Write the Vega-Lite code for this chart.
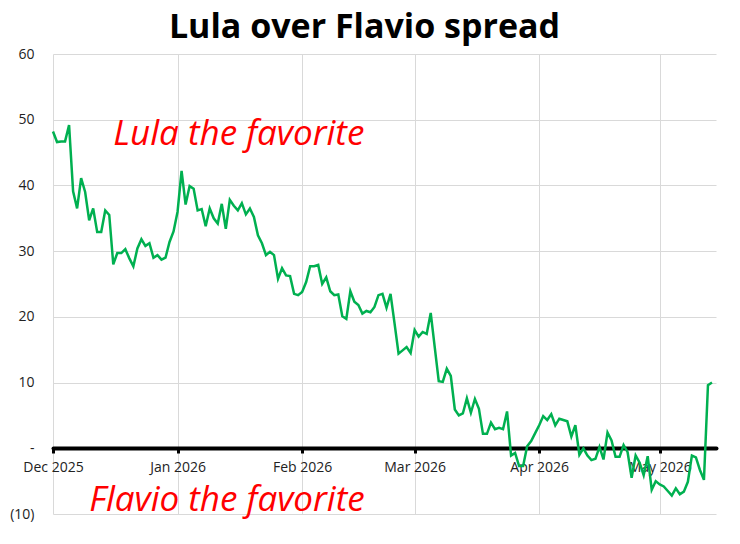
{
  "$schema": "https://vega.github.io/schema/vega-lite/v6.json",
  "width": 663,
  "height": 460,
  "autosize": {"type": "none"},
  "padding": {"left": 53, "top": 54, "right": 24, "bottom": 30},
  "background": "white",
  "title": {
    "text": "Lula over Flavio spread",
    "font": "Open Sans",
    "fontSize": 34,
    "fontWeight": "bold",
    "color": "black",
    "anchor": "middle",
    "dx": -20,
    "offset": 2
  },
  "config": {
    "font": "Open Sans",
    "view": {"stroke": null}
  },
  "datasets": {
    "spread": [
      {"date": "2025-12-01", "spread": 48.2},
      {"date": "2025-12-02", "spread": 46.6},
      {"date": "2025-12-03", "spread": 46.7},
      {"date": "2025-12-04", "spread": 46.7},
      {"date": "2025-12-05", "spread": 49.2},
      {"date": "2025-12-06", "spread": 39.1},
      {"date": "2025-12-07", "spread": 36.5},
      {"date": "2025-12-08", "spread": 41.1},
      {"date": "2025-12-09", "spread": 39.0},
      {"date": "2025-12-10", "spread": 34.7},
      {"date": "2025-12-11", "spread": 36.5},
      {"date": "2025-12-12", "spread": 32.9},
      {"date": "2025-12-13", "spread": 32.9},
      {"date": "2025-12-14", "spread": 36.2},
      {"date": "2025-12-15", "spread": 35.5},
      {"date": "2025-12-16", "spread": 28.0},
      {"date": "2025-12-17", "spread": 29.7},
      {"date": "2025-12-18", "spread": 29.7},
      {"date": "2025-12-19", "spread": 30.3},
      {"date": "2025-12-20", "spread": 28.9},
      {"date": "2025-12-21", "spread": 27.7},
      {"date": "2025-12-22", "spread": 30.4},
      {"date": "2025-12-23", "spread": 31.8},
      {"date": "2025-12-24", "spread": 30.8},
      {"date": "2025-12-25", "spread": 31.2},
      {"date": "2025-12-26", "spread": 29.0},
      {"date": "2025-12-27", "spread": 29.4},
      {"date": "2025-12-28", "spread": 28.7},
      {"date": "2025-12-29", "spread": 29.0},
      {"date": "2025-12-30", "spread": 31.4},
      {"date": "2025-12-31", "spread": 33.0},
      {"date": "2026-01-01", "spread": 36.0},
      {"date": "2026-01-02", "spread": 42.2},
      {"date": "2026-01-03", "spread": 37.1},
      {"date": "2026-01-04", "spread": 39.9},
      {"date": "2026-01-05", "spread": 39.5},
      {"date": "2026-01-06", "spread": 36.2},
      {"date": "2026-01-07", "spread": 36.4},
      {"date": "2026-01-08", "spread": 33.8},
      {"date": "2026-01-09", "spread": 36.5},
      {"date": "2026-01-10", "spread": 35.0},
      {"date": "2026-01-11", "spread": 34.2},
      {"date": "2026-01-12", "spread": 37.2},
      {"date": "2026-01-13", "spread": 33.4},
      {"date": "2026-01-14", "spread": 37.8},
      {"date": "2026-01-15", "spread": 36.9},
      {"date": "2026-01-16", "spread": 36.2},
      {"date": "2026-01-17", "spread": 37.3},
      {"date": "2026-01-18", "spread": 35.6},
      {"date": "2026-01-19", "spread": 36.5},
      {"date": "2026-01-20", "spread": 35.2},
      {"date": "2026-01-21", "spread": 32.4},
      {"date": "2026-01-22", "spread": 31.2},
      {"date": "2026-01-23", "spread": 29.4},
      {"date": "2026-01-24", "spread": 29.9},
      {"date": "2026-01-25", "spread": 29.4},
      {"date": "2026-01-26", "spread": 25.8},
      {"date": "2026-01-27", "spread": 27.4},
      {"date": "2026-01-28", "spread": 26.3},
      {"date": "2026-01-29", "spread": 26.2},
      {"date": "2026-01-30", "spread": 23.5},
      {"date": "2026-01-31", "spread": 23.3},
      {"date": "2026-02-01", "spread": 23.8},
      {"date": "2026-02-02", "spread": 25.3},
      {"date": "2026-02-03", "spread": 27.7},
      {"date": "2026-02-04", "spread": 27.7},
      {"date": "2026-02-05", "spread": 27.9},
      {"date": "2026-02-06", "spread": 25.0},
      {"date": "2026-02-07", "spread": 26.0},
      {"date": "2026-02-08", "spread": 23.9},
      {"date": "2026-02-09", "spread": 23.3},
      {"date": "2026-02-10", "spread": 23.4},
      {"date": "2026-02-11", "spread": 20.1},
      {"date": "2026-02-12", "spread": 19.7},
      {"date": "2026-02-13", "spread": 23.9},
      {"date": "2026-02-14", "spread": 22.3},
      {"date": "2026-02-15", "spread": 21.8},
      {"date": "2026-02-16", "spread": 20.5},
      {"date": "2026-02-17", "spread": 20.9},
      {"date": "2026-02-18", "spread": 20.7},
      {"date": "2026-02-19", "spread": 21.5},
      {"date": "2026-02-20", "spread": 23.3},
      {"date": "2026-02-21", "spread": 23.5},
      {"date": "2026-02-22", "spread": 21.4},
      {"date": "2026-02-23", "spread": 23.5},
      {"date": "2026-02-24", "spread": 19.0},
      {"date": "2026-02-25", "spread": 14.4},
      {"date": "2026-02-26", "spread": 14.9},
      {"date": "2026-02-27", "spread": 15.4},
      {"date": "2026-02-28", "spread": 14.5},
      {"date": "2026-03-01", "spread": 18.0},
      {"date": "2026-03-02", "spread": 17.0},
      {"date": "2026-03-03", "spread": 17.7},
      {"date": "2026-03-04", "spread": 17.4},
      {"date": "2026-03-05", "spread": 20.6},
      {"date": "2026-03-06", "spread": 15.4},
      {"date": "2026-03-07", "spread": 10.2},
      {"date": "2026-03-08", "spread": 10.1},
      {"date": "2026-03-09", "spread": 12.1},
      {"date": "2026-03-10", "spread": 11.0},
      {"date": "2026-03-11", "spread": 5.9},
      {"date": "2026-03-12", "spread": 5.0},
      {"date": "2026-03-13", "spread": 5.3},
      {"date": "2026-03-14", "spread": 7.6},
      {"date": "2026-03-15", "spread": 5.4},
      {"date": "2026-03-16", "spread": 7.5},
      {"date": "2026-03-17", "spread": 6.0},
      {"date": "2026-03-18", "spread": 2.2},
      {"date": "2026-03-19", "spread": 2.2},
      {"date": "2026-03-20", "spread": 3.9},
      {"date": "2026-03-21", "spread": 2.9},
      {"date": "2026-03-22", "spread": 3.1},
      {"date": "2026-03-23", "spread": 2.9},
      {"date": "2026-03-24", "spread": 5.6},
      {"date": "2026-03-25", "spread": -1.1},
      {"date": "2026-03-26", "spread": -0.7},
      {"date": "2026-03-27", "spread": -2.7},
      {"date": "2026-03-28", "spread": -2.7},
      {"date": "2026-03-29", "spread": 0.3},
      {"date": "2026-03-30", "spread": 1.1},
      {"date": "2026-03-31", "spread": 2.3},
      {"date": "2026-04-01", "spread": 3.5},
      {"date": "2026-04-02", "spread": 4.9},
      {"date": "2026-04-03", "spread": 4.3},
      {"date": "2026-04-04", "spread": 5.2},
      {"date": "2026-04-05", "spread": 3.5},
      {"date": "2026-04-06", "spread": 4.5},
      {"date": "2026-04-07", "spread": 4.3},
      {"date": "2026-04-08", "spread": 4.1},
      {"date": "2026-04-09", "spread": 1.8},
      {"date": "2026-04-10", "spread": 3.5},
      {"date": "2026-04-11", "spread": -1.0},
      {"date": "2026-04-12", "spread": 0.0},
      {"date": "2026-04-13", "spread": -1.1},
      {"date": "2026-04-14", "spread": -1.8},
      {"date": "2026-04-15", "spread": -1.6},
      {"date": "2026-04-16", "spread": 0.2},
      {"date": "2026-04-17", "spread": -1.7},
      {"date": "2026-04-18", "spread": 2.4},
      {"date": "2026-04-19", "spread": 1.2},
      {"date": "2026-04-20", "spread": -1.3},
      {"date": "2026-04-21", "spread": -1.3},
      {"date": "2026-04-22", "spread": 0.5},
      {"date": "2026-04-23", "spread": -0.6},
      {"date": "2026-04-24", "spread": -4.5},
      {"date": "2026-04-25", "spread": -1.1},
      {"date": "2026-04-26", "spread": -2.2},
      {"date": "2026-04-27", "spread": -4.1},
      {"date": "2026-04-28", "spread": -1.2},
      {"date": "2026-04-29", "spread": -6.3},
      {"date": "2026-04-30", "spread": -5.0},
      {"date": "2026-05-01", "spread": -5.5},
      {"date": "2026-05-02", "spread": -5.8},
      {"date": "2026-05-03", "spread": -6.5},
      {"date": "2026-05-04", "spread": -7.2},
      {"date": "2026-05-05", "spread": -6.1},
      {"date": "2026-05-06", "spread": -7.0},
      {"date": "2026-05-07", "spread": -6.6},
      {"date": "2026-05-08", "spread": -5.1},
      {"date": "2026-05-09", "spread": -1.1},
      {"date": "2026-05-10", "spread": -1.4},
      {"date": "2026-05-11", "spread": -3.3},
      {"date": "2026-05-12", "spread": -4.8},
      {"date": "2026-05-13", "spread": 9.6},
      {"date": "2026-05-14", "spread": 10.0}
    ],
    "notes": [
      {"date": "2025-12-16", "spread": 46.2, "label": "Lula the favorite"},
      {"date": "2025-12-10", "spread": -9.6, "label": "Flavio the favorite"}
    ]
  },
  "encoding": {
    "x": {
      "field": "date",
      "type": "temporal",
      "title": null,
      "scale": {
        "type": "utc",
        "domain": [
          {"year": 2025, "month": 12, "date": 1, "utc": true},
          {"year": 2026, "month": 5, "date": 15, "utc": true}
        ]
      },
      "axis": {
        "values": [
          {"year": 2025, "month": 12, "date": 1, "utc": true},
          {"year": 2026, "month": 1, "date": 1, "utc": true},
          {"year": 2026, "month": 2, "date": 1, "utc": true},
          {"year": 2026, "month": 3, "date": 1, "utc": true},
          {"year": 2026, "month": 4, "date": 1, "utc": true},
          {"year": 2026, "month": 5, "date": 1, "utc": true}
        ],
        "format": "%b %Y",
        "offset": -66,
        "domainColor": "black",
        "domainWidth": 4,
        "domainCap": "round",
        "tickColor": "black",
        "tickWidth": 3,
        "tickSize": 5,
        "labelPadding": 7,
        "labelFontSize": 14,
        "labelColor": "#222222",
        "labelFlush": false,
        "labelOverlap": false,
        "gridColor": "#d9d9d9",
        "gridWidth": 1
      }
    },
    "y": {
      "field": "spread",
      "type": "quantitative",
      "title": null,
      "scale": {"domain": [-10, 60], "nice": false, "zero": false},
      "axis": {
        "values": [-10, 0, 10, 20, 30, 40, 50, 60],
        "labelExpr": "datum.value == 0 ? '-' : (datum.value < 0 ? '(' + format(-datum.value, 'd') + ')' : datum.label)",
        "domain": false,
        "ticks": false,
        "labelPadding": 19,
        "labelFontSize": 14,
        "labelColor": "#222222",
        "gridColor": "#d9d9d9",
        "gridWidth": 1
      }
    }
  },
  "layer": [
    {
      "data": {"name": "spread"},
      "mark": {"type": "line", "color": "#00b050", "strokeWidth": 2.5}
    },
    {
      "data": {"name": "notes"},
      "mark": {
        "type": "text",
        "align": "left",
        "baseline": "alphabetic",
        "font": "Open Sans",
        "fontStyle": "italic",
        "fontSize": 35,
        "color": "#ff0000"
      },
      "encoding": {
        "text": {"field": "label", "type": "nominal"}
      }
    }
  ]
}
